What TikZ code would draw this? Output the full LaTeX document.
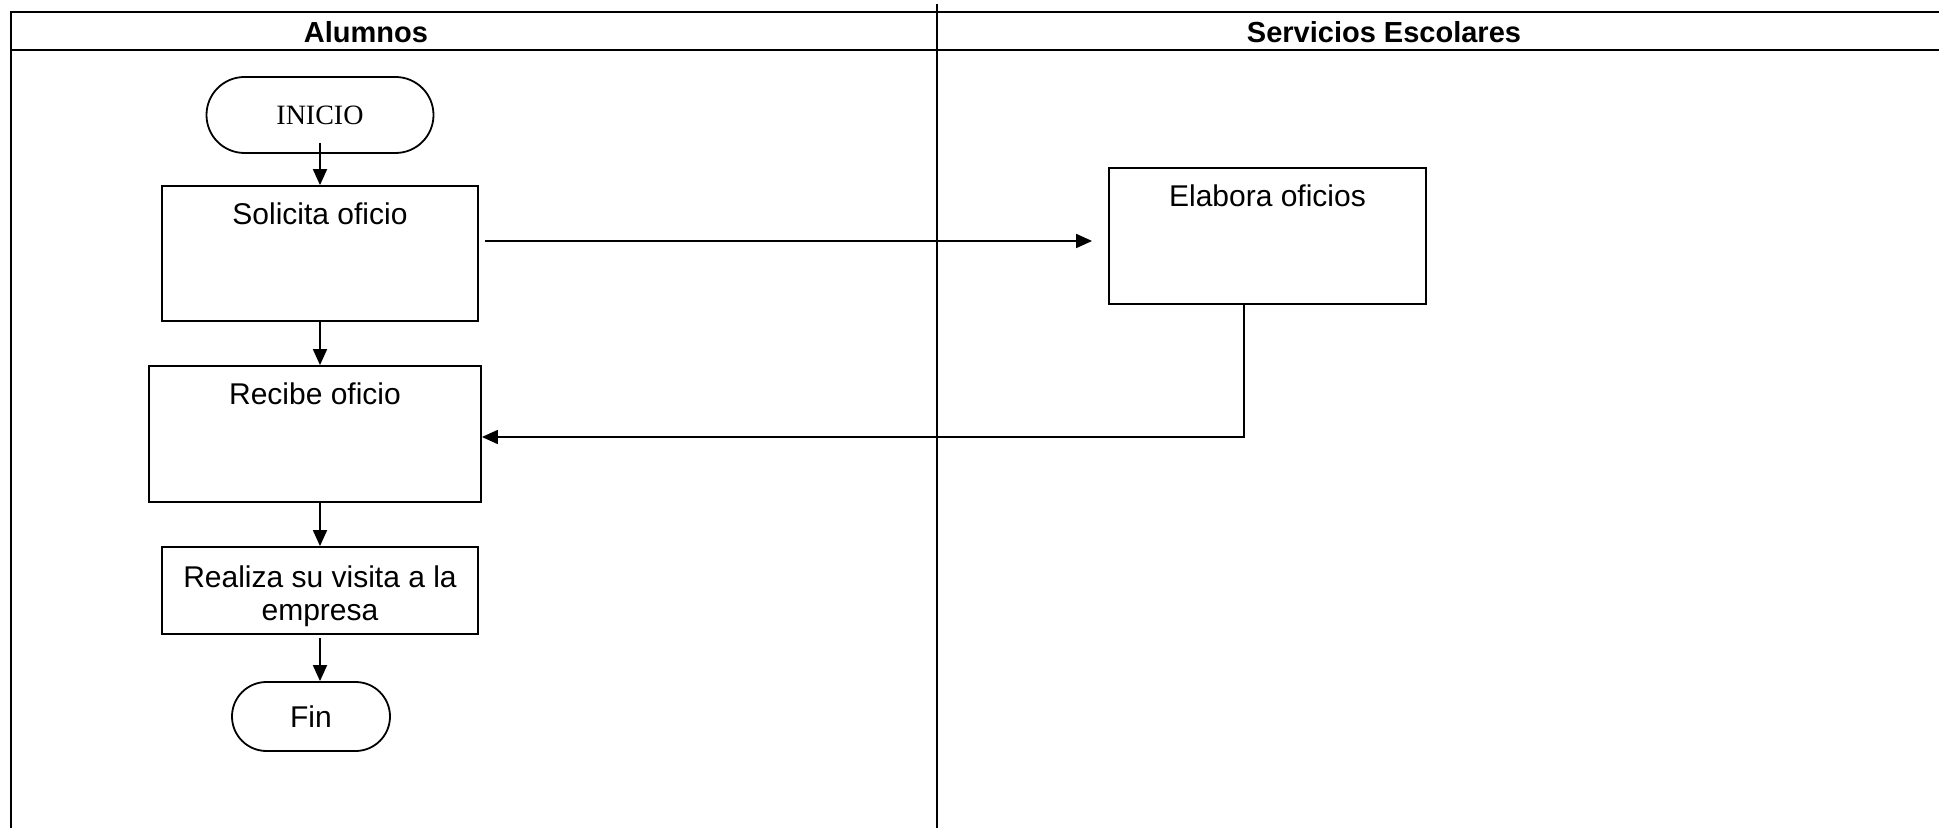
\documentclass[tikz,border=0pt]{standalone}
\usepackage{fontspec}
\setmainfont{Liberation Sans}
\newfontfamily\timesfont{Liberation Serif}
\usetikzlibrary{arrows.meta,shapes.misc}

\begin{document}
\begin{tikzpicture}[x=0.5pt,y=-0.5pt,
  lane/.style={line width=1.2pt},
  proc/.style={draw,line width=0.9pt,rectangle,inner sep=0pt},
  term/.style={draw,line width=0.9pt,rounded rectangle,inner sep=0pt},
  flow/.style={line width=0.9pt,-{Triangle[length=8pt,width=7pt]}},
  head/.style={font=\fontsize{14.5}{17}\selectfont\bfseries},
  txt/.style={font=\fontsize{15}{16.5}\selectfont},
  toptxt/.style={label={[txt,anchor=center,yshift=-14.5pt]north:#1}}]
\useasboundingbox (0,0) rectangle (1939,828);

% swimlane frame
\draw[lane] (1939,12) -- (11,12) -- (11,828);
\draw[lane] (11,50) -- (1939,50);
\draw[lane] (937,4) -- (937,828);
\node[head] (hAlumnos) at (366,32) {Alumnos};
\node[head] (hServicios) at (1384,32) {Servicios Escolares};

% flow steps
\node[term,minimum width=113.5pt,minimum height=38pt,font=\timesfont\fontsize{14}{16}\selectfont]
  (inicio) at (320,115) {INICIO};
\node[proc,minimum width=158pt,minimum height=67.5pt,toptxt={Solicita oficio}]
  (solicita) at (320,253.5) {};
\node[proc,minimum width=158.5pt,minimum height=68pt,toptxt={Elabora oficios}]
  (elabora) at (1267.5,236) {};
\node[proc,minimum width=166pt,minimum height=68pt,toptxt={Recibe oficio}]
  (recibe) at (315,434) {};
\node[proc,minimum width=158pt,minimum height=43.5pt,
  label={[txt,align=center,anchor=center,yshift=-3pt]center:Realiza su visita a la\\empresa}]
  (realiza) at (320,590.5) {};
\node[term,minimum width=79pt,minimum height=34.5pt,txt]
  (fin) at (311,716.5) {Fin};

% connectors
\draw[flow] ([yshift=5.5pt]inicio.south) -- (inicio.south |- solicita.north);
\draw[flow] (solicita.south) -- (solicita.south |- recibe.north);
\draw[flow] ([xshift=2.5pt]recibe.south) -- ([xshift=2.5pt]recibe.south |- realiza.north);
\draw[flow] ([yshift=-1.5pt]realiza.south) -- (realiza.south |- fin.north);
\draw[flow] ([xshift=3pt,yshift=6.25pt]solicita.east) -- ([xshift=-8pt,yshift=-2.5pt]elabora.west);
\draw[flow] ([xshift=-11.75pt]elabora.south) |- ([yshift=-1.5pt]recibe.east);
\end{tikzpicture}
\end{document}
